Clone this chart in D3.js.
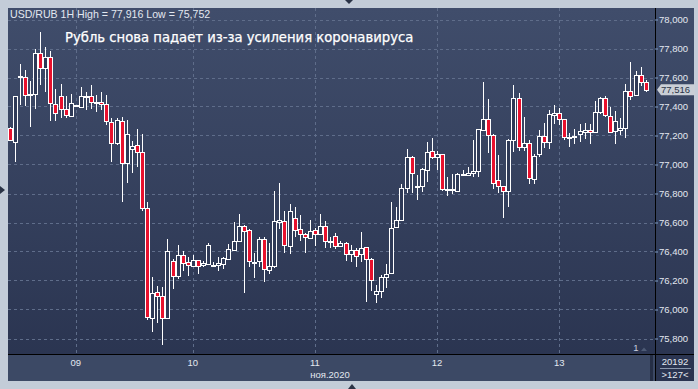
<!DOCTYPE html>
<html>
<head>
<meta charset="utf-8">
<script src="https://cdn.jsdelivr.net/npm/d3@7"></script>
<style>
body { margin: 0; background: #c3ccd8; }
svg { display: block; }
</style>
</head>
<body>
<div id="chart"></div>
<script>
// USD/RUB 1H candles, 6..13 Nov 2020
var open = [77.252,77.157,77.603,77.606,77.474,77.484,77.767,77.663,77.739,77.415,
  77.472,77.381,77.337,77.405,77.399,77.473,77.472,77.434,77.433,77.415,
  77.295,77.146,77.300,77.008,77.105,77.134,77.084,76.698,75.943,76.119,
  76.093,75.943,76.334,76.233,76.376,76.326,76.302,76.341,76.302,76.312,
  76.306,76.302,76.314,76.348,76.410,76.472,76.576,76.546,76.331,76.330,
  76.484,76.277,76.302,76.606,76.612,76.440,76.629,76.553,76.519,76.495,
  76.548,76.519,76.576,76.471,76.507,76.438,76.457,76.381,76.410,76.381,
  76.429,76.346,76.112,76.130,76.222,76.250,76.567,76.612,76.836,77.054,
  76.855,76.854,76.962,77.093,77.050,77.070,76.830,76.828,76.817,76.931,
  76.928,76.939,76.950,77.233,77.312,77.203,76.893,76.854,76.819,77.169,
  77.457,77.119,77.146,76.905,77.070,77.197,77.153,77.346,77.357,77.312,
  77.189,77.188,77.215,77.226,77.238,77.222,77.360,77.457,77.334,77.233,
  77.233,77.250,77.507,77.479,77.617,77.571];
var high = [77.259,77.474,77.693,77.652,77.576,77.797,77.916,77.812,77.785,77.521,
  77.553,77.472,77.484,77.412,77.532,77.502,77.548,77.479,77.498,77.479,
  77.319,77.323,77.330,77.307,77.164,77.245,77.210,76.741,76.226,76.162,
  76.157,76.486,76.346,76.445,76.406,76.364,76.376,76.343,76.334,76.457,
  76.326,76.360,76.360,76.452,76.601,76.659,76.583,76.553,76.388,76.498,
  76.498,76.457,76.817,76.870,76.681,76.728,76.705,76.652,76.526,76.617,
  76.560,76.659,76.610,76.502,76.526,76.472,76.468,76.445,76.422,76.532,
  76.433,76.353,76.169,76.238,76.312,76.743,76.709,76.866,77.107,77.056,
  76.928,76.978,77.153,77.181,77.093,77.072,76.916,76.934,76.943,76.962,
  76.985,77.169,77.245,77.567,77.452,77.210,77.066,76.855,77.176,77.548,
  77.491,77.326,77.169,77.070,77.238,77.288,77.376,77.410,77.388,77.312,
  77.219,77.243,77.279,77.288,77.279,77.438,77.468,77.472,77.394,77.369,
  77.319,77.553,77.709,77.647,77.674,77.583];
var low = [77.162,77.017,77.410,77.403,77.261,77.383,77.548,77.502,77.302,77.302,
  77.319,77.323,77.330,77.400,77.388,77.376,77.381,77.364,77.376,77.272,
  77.015,77.134,76.743,76.870,76.943,76.985,76.681,75.928,75.847,75.909,
  75.752,75.940,76.141,76.208,76.266,76.233,76.295,76.245,76.295,76.310,
  76.291,76.268,76.277,76.341,76.403,76.463,76.116,76.295,76.219,76.295,
  76.192,76.243,76.284,76.553,76.392,76.381,76.502,76.472,76.388,76.491,
  76.438,76.512,76.422,76.422,76.417,76.429,76.334,76.330,76.295,76.330,
  76.054,76.128,76.043,76.077,76.146,76.243,76.560,76.610,76.806,76.801,
  76.755,76.812,76.881,77.038,76.962,76.819,76.783,76.794,76.812,76.923,
  76.923,76.916,76.916,77.230,77.077,76.829,76.801,76.629,76.705,77.084,
  77.093,77.095,76.863,76.863,77.054,77.112,77.107,77.277,77.272,77.169,
  77.123,77.141,77.157,77.174,77.141,77.220,77.348,77.330,77.215,77.141,
  77.203,77.181,77.445,77.474,77.541,77.502];
var close = [77.169,77.474,77.607,77.484,77.484,77.767,77.663,77.739,77.422,77.353,
  77.381,77.337,77.426,77.407,77.474,77.475,77.429,77.432,77.417,77.300,
  77.153,77.307,77.008,77.208,77.128,77.083,76.697,75.945,76.112,76.088,
  75.943,76.403,76.233,76.376,76.323,76.302,76.341,76.302,76.319,76.445,
  76.308,76.319,76.353,76.415,76.472,76.576,76.543,76.330,76.329,76.484,
  76.277,76.302,76.612,76.617,76.445,76.681,76.548,76.519,76.495,76.541,
  76.519,76.576,76.472,76.473,76.440,76.457,76.381,76.410,76.369,76.422,
  76.346,76.203,76.130,76.226,76.243,76.560,76.617,76.836,77.050,76.946,
  76.853,76.969,77.084,77.050,77.070,76.829,76.828,76.831,76.932,76.933,
  76.939,76.955,77.243,77.312,77.199,76.870,76.854,76.819,77.169,77.457,
  77.119,77.146,76.905,77.061,77.197,77.153,77.348,77.357,77.319,77.188,
  77.187,77.197,77.233,77.238,77.222,77.360,77.457,77.337,77.226,77.300,
  77.250,77.507,77.474,77.617,77.567,77.516];

var dayLabels = ["09", "10", "11", "12", "13"];
var dayStart = [13, 36, 60, 84, 108];
var yTicks = [75.8, 76.0, 76.2, 76.4, 76.6, 76.8, 77.0, 77.2, 77.4, 77.6, 77.8, 78.0];
var lastPrice = 77.516;
var headerText = "USD/RUB 1H High = 77,916 Low = 75,752";
var titleText = "Рубль снова падает из-за усиления коронавируса";
var monthLabel = "ноя.2020";

var width = 698, height = 389;
var plotL = 8, plotR = 655, plotT = 8, plotB = 354, panelR = 694, stripB = 381;
var font = 'Liberation Sans, Arial, sans-serif';

var svg = d3.select('#chart').append('svg')
  .attr('width', width)
  .attr('height', height);

var defs = svg.append('defs');
var grad = defs.append('linearGradient').attr('id', 'bg')
  .attr('x1', 0).attr('y1', 0).attr('x2', 0).attr('y2', 1);
grad.append('stop').attr('offset', '0%').attr('stop-color', '#404d6b');
grad.append('stop').attr('offset', '100%').attr('stop-color', '#29334f');
defs.append('clipPath').attr('id', 'clip').append('rect')
  .attr('x', plotL).attr('y', plotT).attr('width', plotR - plotL).attr('height', plotB - plotT);

// frame
svg.append('rect').attr('width', width).attr('height', height).attr('fill', '#c3ccd8');
svg.append('rect').attr('x', plotL).attr('y', plotT)
  .attr('width', panelR - plotL).attr('height', stripB - plotT).attr('fill', 'url(#bg)');
svg.append('rect').attr('x', plotL).attr('y', plotB)
  .attr('width', plotR - plotL).attr('height', stripB - plotB).attr('fill', '#3c4965');
svg.append('rect').attr('x', plotR - 5).attr('y', plotB + 1)
  .attr('width', 3).attr('height', stripB - plotB - 1).attr('fill', '#252e45');

// scales
var x = d3.scaleLinear().domain([0, open.length - 1]).range([9.7, 645.7]);
var y = d3.scaleLinear().domain([75.8, 78.0]).range([338.5, 19.5]);

// grid
var grid = svg.append('g').attr('stroke', '#5f6d8a').attr('stroke-dasharray', '3,3')
  .attr('shape-rendering', 'crispEdges');
grid.selectAll('.hg').data(yTicks).enter().append('line')
  .attr('x1', plotL).attr('x2', plotR)
  .attr('y1', d => Math.round(y(d)) + 0.5).attr('y2', d => Math.round(y(d)) + 0.5);
grid.selectAll('.vg').data(dayStart).enter().append('line')
  .attr('y1', plotT).attr('y2', plotB)
  .attr('x1', d => Math.round(x(d)) + 0.5).attr('x2', d => Math.round(x(d)) + 0.5);

// candles
var idx = d3.range(open.length);
var g = svg.append('g').attr('clip-path', 'url(#clip)').attr('shape-rendering', 'crispEdges');
g.selectAll('.wick').data(idx).enter().append('line')
  .attr('class', 'wick')
  .attr('x1', i => Math.round(x(i)) + 0.5).attr('x2', i => Math.round(x(i)) + 0.5)
  .attr('y1', i => y(high[i])).attr('y2', i => y(low[i]))
  .attr('stroke', '#ffffff').attr('stroke-width', 1);
g.selectAll('.body').data(idx).enter().append('rect')
  .attr('class', 'body')
  .attr('x', i => Math.round(x(i)) - 1.5)
  .attr('width', 4)
  .attr('y', i => Math.round(y(Math.max(open[i], close[i]))) + 0.5)
  .attr('height', i => Math.max(1, Math.round(y(Math.min(open[i], close[i])) - y(Math.max(open[i], close[i])))))
  .attr('fill', i => close[i] < open[i] ? '#e8112d' : '#2f3a57')
  .attr('stroke', '#ffffff').attr('stroke-width', 1);

// axes lines
svg.append('line').attr('x1', plotR + 0.5).attr('x2', plotR + 0.5).attr('y1', plotT).attr('y2', stripB)
  .attr('stroke', '#000').attr('shape-rendering', 'crispEdges');
svg.append('line').attr('x1', plotL).attr('x2', panelR).attr('y1', plotB + 0.5).attr('y2', plotB + 0.5)
  .attr('stroke', '#000').attr('shape-rendering', 'crispEdges');

// right price axis
var axisRight = svg.append('g').attr('transform', 'translate(' + plotR + ',0)');
axisRight.call(d3.axisRight(y).tickValues(yTicks).tickSize(3).tickPadding(1)
  .tickFormat(d => d3.format(',.3f')(d).replace('.', ',')));
axisRight.select('.domain').remove();
axisRight.selectAll('line').attr('stroke', '#7f9cc4');
axisRight.selectAll('text').attr('fill', '#e3e8f0')
  .attr('font-family', font).attr('font-size', 9.5);

// last price tag
var ly = y(lastPrice);
svg.append('path')
  .attr('d', 'M657,' + ly + ' L661,' + (ly - 5.5) + ' L695,' + (ly - 5.5) + ' L695,' + (ly + 5.5) + ' L661,' + (ly + 5.5) + ' Z')
  .attr('fill', '#c9ced6');
svg.append('text').attr('x', 661).attr('y', ly + 3.5).text(d3.format('.3f')(lastPrice).replace('.', ','))
  .attr('fill', '#2a3346').attr('font-family', font).attr('font-size', 9.5);

// bottom axis labels
svg.selectAll('.dayLbl').data(dayStart).enter().append('text')
  .attr('x', d => x(d)).attr('y', 366).attr('text-anchor', 'middle')
  .text((d, k) => dayLabels[k])
  .attr('fill', '#e3e8f0').attr('font-family', font).attr('font-size', 9.5);
svg.append('text').attr('x', 330).attr('y', 378).attr('text-anchor', 'middle').text(monthLabel)
  .attr('fill', '#e3e8f0').attr('font-family', font).attr('font-size', 9.5);

// bottom right cell
svg.append('text').attr('x', 675).attr('y', 365).attr('text-anchor', 'middle').text('20192')
  .attr('fill', '#e3e8f0').attr('font-family', font).attr('font-size', 9.5);
svg.append('line').attr('x1', 660).attr('x2', 691).attr('y1', 368.5).attr('y2', 368.5).attr('stroke', '#8a97ad');
svg.append('text').attr('x', 675).attr('y', 378).attr('text-anchor', 'middle').text('>127<')
  .attr('fill', '#e3e8f0').attr('font-family', font).attr('font-size', 9.5);
svg.append('text').attr('x', 636).attr('y', 351).attr('text-anchor', 'middle').text('1')
  .attr('fill', '#c9d2e0').attr('font-family', font).attr('font-size', 9.5);
svg.append('path').attr('d', 'M641,351 L644,347.5 L647,351 Z').attr('fill', '#4d5a75');

// header and title
svg.append('text').attr('x', 10).attr('y', 18).text(headerText)
  .attr('fill', '#e3e8f0').attr('font-family', font).attr('font-size', 10.6);
svg.append('text').attr('x', 65).attr('y', 42).text(titleText)
  .attr('fill', '#ffffff').attr('stroke', '#ffffff').attr('stroke-width', 0.25)
  .attr('font-family', 'DejaVu Sans, sans-serif').attr('font-size', 13.2);

// little scroll arrows on the frame
svg.append('path').attr('d', 'M345,0 L353,0 L349,4 Z').attr('fill', '#2a3346');
svg.append('path').attr('d', 'M348,389 L356,389 L352,384 Z').attr('fill', '#2a3346');
svg.append('path').attr('d', 'M0,186 L0,194 L5,190 Z').attr('fill', '#2a3346');
</script>
</body>
</html>
